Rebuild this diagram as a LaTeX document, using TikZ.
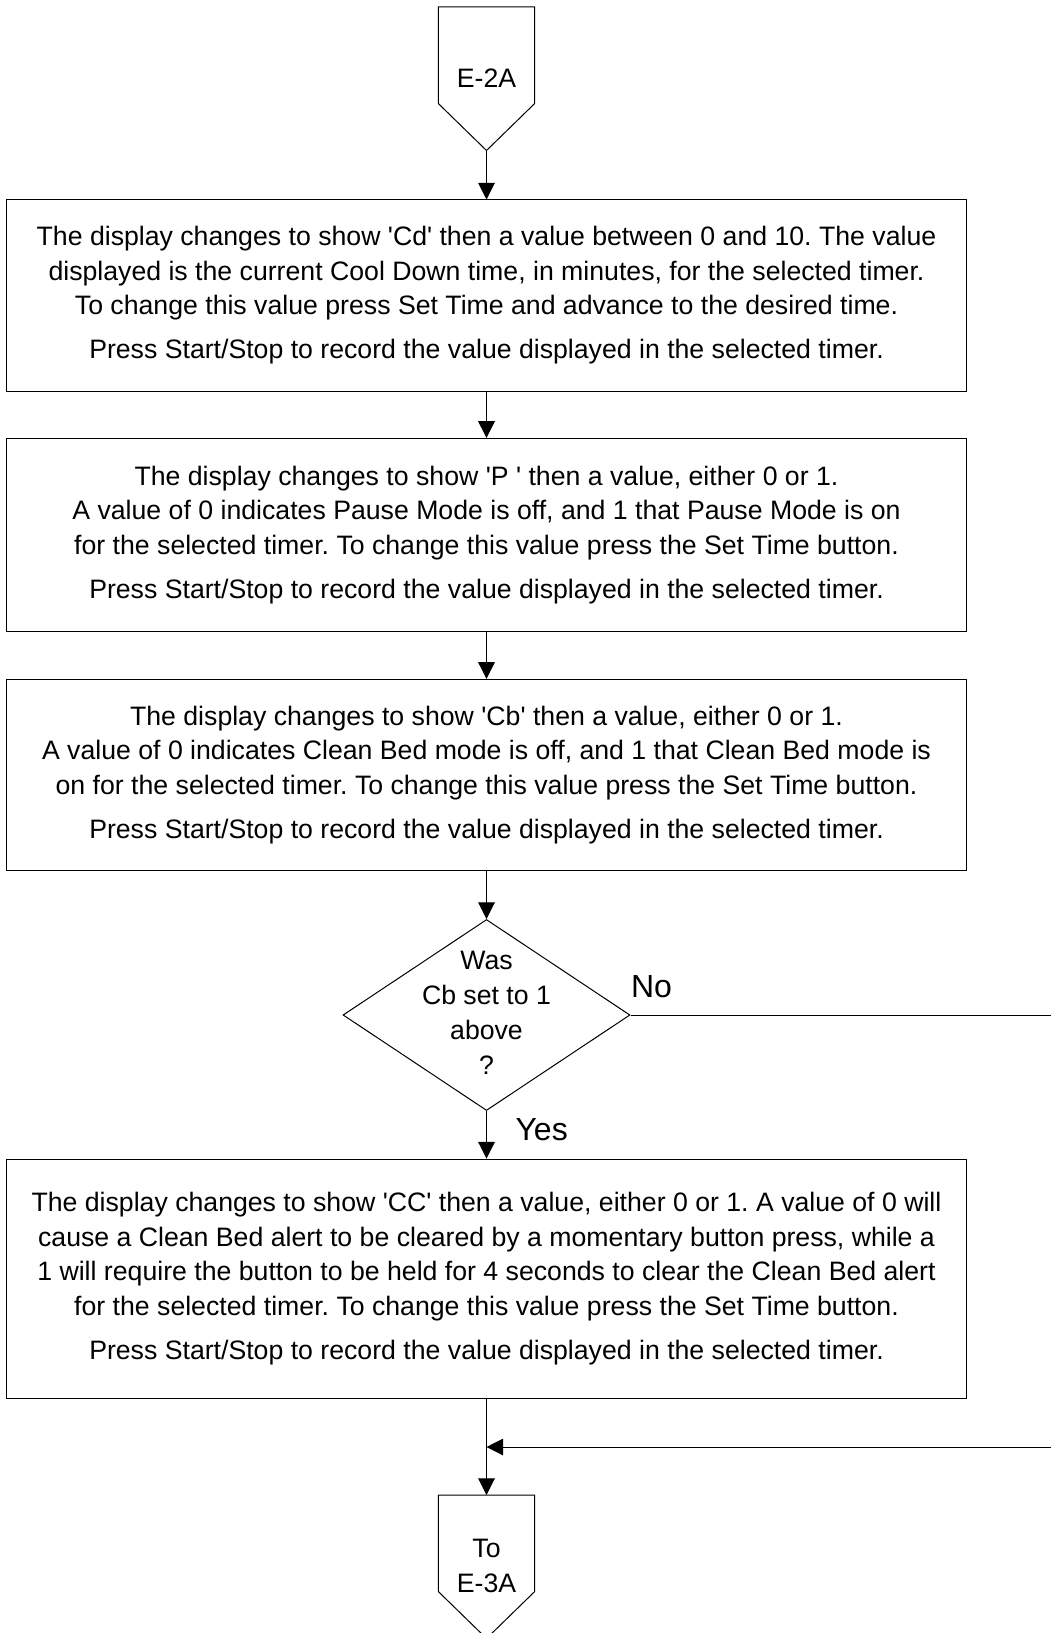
\documentclass[tikz,border=0pt]{standalone}
\usepackage{fontspec}
\setmainfont{Liberation Sans}[Ligatures=TeXOff]
\usetikzlibrary{shapes.geometric,arrows.meta}
\frenchspacing

\tikzset{
  stepbox/.style={draw, rectangle, minimum width=720pt, align=center, inner sep=0pt,
    font=\fontsize{20}{25.9}\selectfont},
  offpage/.style={align=center, inner sep=0pt, font=\fontsize{20}{25.8}\selectfont},
  decision/.style={draw, diamond, aspect=1.5, minimum width=215.25pt,
    minimum height=143.25pt, inner sep=0pt},
  flow/.style={-{Triangle[length=12.5pt,width=12.5pt]}},
  yesno/.style={font=\fontsize{24}{28}\selectfont, inner sep=0pt, anchor=base west}
}

\begin{document}
\begin{tikzpicture}[x=0.75pt,y=-0.75pt,line width=0.75pt]
		\useasboundingbox (0,0) rectangle (1050,1633);

		% entry and exit connectors
		\node[offpage] (e2a) at (486.5,77.8) {E-2A};
		\draw (e2a) ++(-48.2,-70.8) -- ++(96.4,0) -- ++(0,96.5) -- ++(-48.2,47) coordinate (e2a tip)
			-- ++(-48.2,-47) -- cycle;
		\node[offpage] (e3a) at (486.5,1565.8) {To\\E-3A};
		\draw (e3a) ++(-48.2,-70.8) -- ++(96.4,0) -- ++(0,96.5)
			-- ++(-48.2,47) -- ++(-48.2,-47) -- cycle;
		\coordinate (e3a top) at ([yshift=53.1pt]e3a);

		% steps
		\node[stepbox, minimum height=143.25pt] (cd) at (486.5,295.5)
			{The display changes to show 'Cd' then a value between 0 and 10. The value\\
			 displayed is the current Cool Down time, in minutes, for the selected timer.\\
			 To change this value press Set Time and advance to the desired time.\\[7pt]
			 Press Start/Stop to record the value displayed in the selected timer.};
		\node[stepbox, minimum height=144.5pt] (pm) at (486.5,534.7)
			{The display changes to show 'P ' then a value, either 0 or 1.\\
			 A value of 0 indicates Pause Mode is off, and 1 that Pause Mode is on\\
			 for the selected timer. To change this value press the Set Time button.\\[7pt]
			 Press Start/Stop to record the value displayed in the selected timer.};
		\node[stepbox, minimum height=143.5pt] (cb) at (486.5,775)
			{The display changes to show 'Cb' then a value, either 0 or 1.\\
			 A value of 0 indicates Clean Bed mode is off, and 1 that Clean Bed mode is\\
			 on for the selected timer. To change this value press the Set Time button.\\[7pt]
			 Press Start/Stop to record the value displayed in the selected timer.};
		\node[decision] (dec) at (486.5,1015) {};
		\node[align=center, inner sep=0pt, font=\fontsize{20}{26.3}\selectfont] (dectext) at (486.5,1012.5)
			{Was\\Cb set to 1\\above\\?};
		\node[stepbox, minimum height=179.5pt] (cc) at (486.5,1278.7)
			{The display changes to show 'CC' then a value, either 0 or 1. A value of 0 will\\
			 cause a Clean Bed alert to be cleared by a momentary button press, while a\\
			 1 will require the button to be held for 4 seconds to clear the Clean Bed alert\\
			 for the selected timer. To change this value press the Set Time button.\\[7pt]
			 Press Start/Stop to record the value displayed in the selected timer.};

		% the No branch leaves the sheet on the right and comes back
		\coordinate (noend) at (1052,1015);
		\coordinate (backin) at (1052,1447);
		\coordinate (join) at (486.5,1447);

		\draw[flow] (e2a tip) -- (cd.north);
		\draw[flow] (cd.south) -- (pm.north);
		\draw[flow] (pm.south) -- (cb.north);
		\draw[flow] (cb.south) -- (dec.north);
		\draw[flow] (dec.south) -- (cc.north)
			node[yesno, pos=0, xshift=21.4pt, yshift=-21.75pt] {Yes};
		\draw (dec.east) -- (noend)
			node[yesno, pos=0, yshift=13.5pt] {No};
		\draw[flow] (cc.south) -- (e3a top);
		\draw[flow] (backin) -- (join);
	\end{tikzpicture}
\end{document}
